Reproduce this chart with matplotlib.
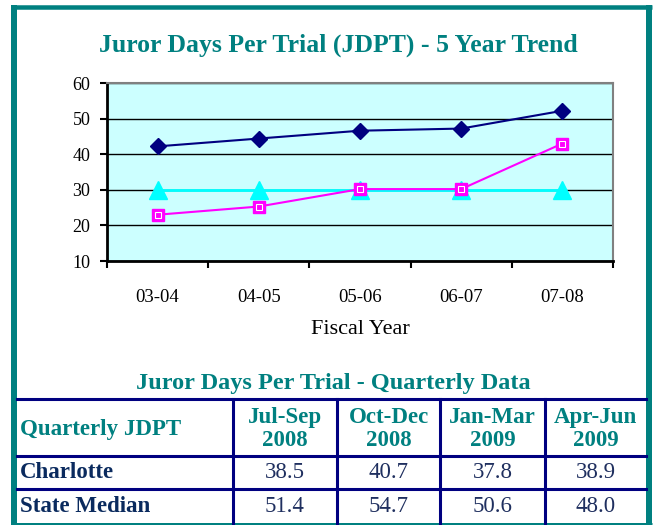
import matplotlib
matplotlib.use("Agg")
import matplotlib.pyplot as plt
from matplotlib.lines import Line2D

years = ["03-04", "04-05", "05-06", "06-07", "07-08"]
charlotte = [42.2, 44.4, 46.6, 47.2, 52.2]
state_median = [23.0, 25.3, 30.2, 30.2, 43.0]
standard = [30, 30, 30, 30, 30]

table_title = "Juror Days Per Trial - Quarterly Data"
col_headers = ["Quarterly JDPT", "Jul-Sep\n2008", "Oct-Dec\n2008", "Jan-Mar\n2009", "Apr-Jun\n2009"]
row_labels = ["Charlotte", "State Median"]
row_values = [[38.5, 40.7, 37.8, 38.9], [51.4, 54.7, 50.6, 48.0]]

TEAL = "#008080"
NAVY = "#000080"
SERIF = ["Liberation Serif", "DejaVu Serif"]

W, H = 656, 525
fig = plt.figure(figsize=(W / 100, H / 100), dpi=100)
fig.patch.set_facecolor("white")

def fx(x):
    return x / W

def fy(y):
    return 1 - y / H

# outer teal border
for (x0, y0, x1, y1, lw) in [(11, 7, 652, 7, 4.5), (14, 5, 14, 525, 6), (649, 5, 649, 525, 6), (11, 524, 652, 524, 3)]:
    fig.add_artist(Line2D([fx(x0), fx(x1)], [fy(y0), fy(y1)], transform=fig.transFigure,
                          color=TEAL, linewidth=lw * 0.72, solid_capstyle="butt"))

fig.text(fx(338), fy(45), "Juror Days Per Trial (JDPT) - 5 Year Trend", ha="center", va="center",
         fontsize=18.5, fontweight="bold", color=TEAL, family=SERIF)

ax = fig.add_axes([fx(107), fy(261), fx(613) - fx(107), fy(83) - fy(261)])
ax.set_facecolor("#CCFFFF")
x = list(range(len(years)))
ax.plot(x, standard, color="#00FFFF", linewidth=2, marker="^", markersize=13,
        markerfacecolor="#00FFFF", markeredgecolor="#00FFFF", zorder=3)
ax.plot(x, charlotte, color=NAVY, linewidth=1.5, marker="D", markersize=8,
        markerfacecolor=NAVY, markeredgecolor=NAVY, zorder=4)
ax.plot(x, state_median, color="#FF00FF", linewidth=1.5, marker="s", markersize=8,
        markerfacecolor="#FF00FF", markeredgecolor="#FF00FF", zorder=4)
ax.plot(x, state_median, linestyle="none", marker="s", markersize=5,
        markerfacecolor="none", markeredgecolor="white", markeredgewidth=0.8, zorder=5)

ax.set_xlim(-0.5, len(years) - 0.5)
ax.set_ylim(10, 60)
ax.set_yticks([10, 20, 30, 40, 50, 60])
ax.set_yticklabels(["10", "20", "30", "40", "50", "60"], family=SERIF, fontsize=13)
ax.yaxis.grid(True, color="black", linewidth=1)
ax.set_axisbelow(True)
ax.set_xticks([i - 0.5 for i in range(len(years) + 1)])
ax.set_xticklabels([])
ax.set_xticks(x, minor=True)
ax.set_xticklabels(years, minor=True, family=SERIF, fontsize=13.5)
ax.tick_params(axis="x", which="minor", length=0, pad=20)
ax.tick_params(axis="x", which="major", length=5, width=1.5, direction="out")
ax.tick_params(axis="y", length=5, width=1.5, direction="out", pad=7)
ax.set_xlabel("Fiscal Year", family=SERIF, fontsize=16, labelpad=10)
for s in ["top", "right"]:
    ax.spines[s].set_color("#808080")
    ax.spines[s].set_linewidth(1.5)
for s in ["left", "bottom"]:
    ax.spines[s].set_color("black")
    ax.spines[s].set_linewidth(2)

# table
fig.text(fx(333), fy(383), table_title, ha="center", va="center", fontsize=17.5,
         fontweight="bold", color=TEAL, family=SERIF)
tl, tr = 17, 646
rows_y = [399, 456, 489, 523]
for yy in rows_y[:3]:
    fig.add_artist(Line2D([fx(tl), fx(tr)], [fy(yy), fy(yy)], transform=fig.transFigure,
                          color=NAVY, linewidth=2.2))
col_x = [17, 233, 337, 440, 545, 646]
for xx in col_x[1:5]:
    fig.add_artist(Line2D([fx(xx), fx(xx)], [fy(399), fy(523)], transform=fig.transFigure,
                          color=NAVY, linewidth=2.2))

fig.text(fx(20), fy(429), col_headers[0], ha="left", va="center", fontsize=16.5,
         fontweight="bold", color=TEAL, family=SERIF)
for i, h in enumerate(col_headers[1:]):
    cx = (col_x[i + 1] + col_x[i + 2]) / 2
    fig.text(fx(cx), fy(429), h, ha="center", va="center", fontsize=16.5, fontweight="bold",
             color=TEAL, family=SERIF, linespacing=1.12)
for r, (lab, vals) in enumerate(zip(row_labels, row_values)):
    cy = (rows_y[r + 1] + rows_y[r + 2]) / 2
    fig.text(fx(20), fy(cy), lab, ha="left", va="center", fontsize=16.5, fontweight="bold",
             color="#0A2A5E", family=SERIF)
    for i, v in enumerate(vals):
        cx = (col_x[i + 1] + col_x[i + 2]) / 2
        fig.text(fx(cx), fy(cy), f"{v:.1f}", ha="center", va="center", fontsize=16.5,
                 color="#1F2F5F", family=SERIF)

fig.savefig("out.png", dpi=100)
